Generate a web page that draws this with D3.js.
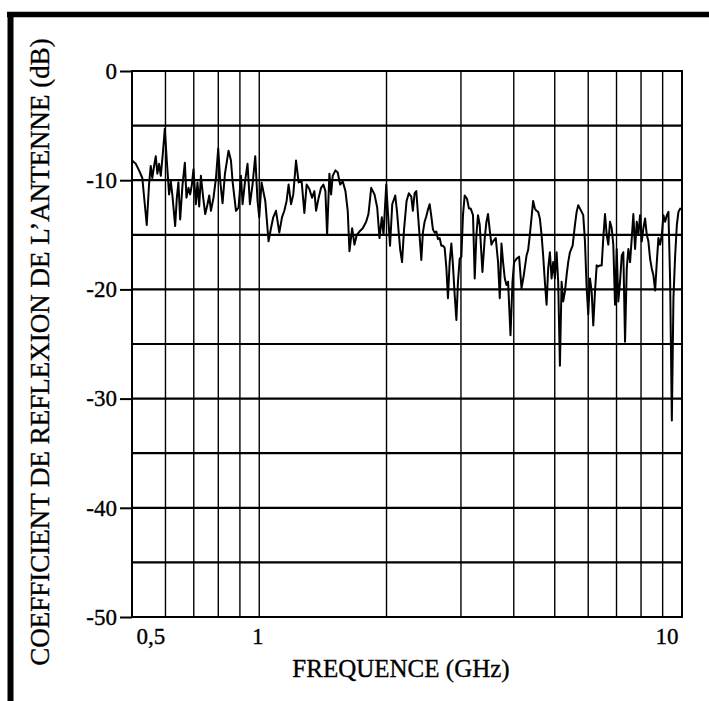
<!DOCTYPE html>
<html>
<head>
<meta charset="utf-8">
<script src="https://cdn.jsdelivr.net/npm/d3@7"></script>
<style>
  html, body { margin: 0; padding: 0; background: #fff; }
  svg { display: block; }
  text { font-family: "Liberation Serif", "Times New Roman", serif; fill: #000; stroke: #000; stroke-width: 0.35px; }
</style>
</head>
<body>
<svg id="chart" width="709" height="701"></svg>
<script>
// Measured reflection coefficient of the antenna versus frequency
const freqGHz = [
  0.500, 0.5105, 0.5195, 0.5289, 0.5418, 0.5486, 0.5537, 0.5585, 0.5639, 0.5691,
  0.5741, 0.5795, 0.5849, 0.5922, 0.5978, 0.6043, 0.6120, 0.6177, 0.6231, 0.6325,
  0.6383, 0.6438, 0.6500, 0.6581, 0.6668, 0.6727, 0.6800, 0.6864, 0.6928, 0.6988,
  0.7081, 0.7143, 0.7210, 0.7277, 0.7368, 0.7451, 0.7544, 0.7615, 0.7686, 0.7795,
  0.7899, 0.7997, 0.8086, 0.8188, 0.8296, 0.8460, 0.8572, 0.8647, 0.8809, 0.8934,
  0.9052, 0.9131, 0.9249, 0.9381, 0.9505, 0.9640, 0.9784, 0.9907, 1.000, 1.0126,
  1.0333, 1.0520, 1.0659, 1.0792, 1.0954, 1.1153, 1.1318, 1.1462, 1.1606, 1.1733,
  1.1889, 1.2037, 1.2218, 1.2391, 1.2597, 1.2784, 1.2945, 1.3138, 1.3332, 1.3501,
  1.3627, 1.3820, 1.4004, 1.4179, 1.4337, 1.4470, 1.4653, 1.4789, 1.4918, 1.5142,
  1.5332, 1.5534, 1.5755, 1.5991, 1.6192, 1.6344, 1.6586, 1.6796, 1.7008, 1.7261,
  1.7573, 1.7903, 1.8126, 1.8399, 1.8733, 1.9010, 1.9252, 1.9495, 1.9674, 1.9969,
  2.0143, 2.0387, 2.0633, 2.0974, 2.1181, 2.1353, 2.1555, 2.1767, 2.2003, 2.2310,
  2.2588, 2.2888, 2.3088, 2.3305, 2.3522, 2.3727, 2.3950, 2.4173, 2.4384, 2.4612,
  2.4841, 2.5057, 2.5293, 2.5528, 2.5751, 2.5993, 2.6235, 2.6463, 2.6712, 2.6960,
  2.7195, 2.7451, 2.7706, 2.7948, 2.8211, 2.8473, 2.8722, 2.8991, 2.9261, 2.9516,
  2.9793, 3.0070, 3.0332, 3.0618, 3.1004, 3.1341, 3.1638, 3.2035, 3.2335, 3.2636,
  3.2920, 3.3230, 3.3722, 3.4149, 3.4467, 3.4767, 3.5094, 3.5420, 3.5729, 3.6263,
  3.6718, 3.7063, 3.7408, 3.7734, 3.8089, 3.8443, 3.8778, 3.9292, 3.9722, 4.0067,
  4.0600, 4.1175, 4.1723, 4.2244, 4.2877, 4.3251, 4.3658, 4.4064, 4.4448, 4.4866,
  4.5283, 4.5678, 4.6107, 4.6536, 4.6942, 4.7383, 4.7824, 4.8241, 4.8694, 4.9147,
  4.9575, 5.0041, 5.0506, 5.0947, 5.1426, 5.1904, 5.2357, 5.2849, 5.3340, 5.3806,
  5.4311, 5.5115, 5.5814, 5.6333, 5.6824, 5.7358, 5.7891, 5.8396, 5.8945, 5.9493,
  6.0012, 6.0576, 6.1139, 6.1672, 6.2252, 6.2831, 6.3379, 6.3975, 6.4570, 6.5133,
  6.5745, 6.6356, 6.6935, 6.7564, 6.8192, 6.8787, 6.9433, 7.0079, 7.0690, 7.1354,
  7.2018, 7.2646, 7.3328, 7.4010, 7.4655, 7.5357, 7.6058, 7.6721, 7.7442, 7.8162,
  7.8844, 7.9585, 8.0325, 8.1026, 8.1787, 8.2548, 8.3267, 8.4050, 8.4832, 8.5571,
  8.6376, 8.7179, 8.7939, 8.8766, 8.9592, 9.0373, 9.1222, 9.2070, 9.2873, 9.3746,
  9.4618, 9.5443, 9.6340, 9.7236, 9.8084, 9.9005, 10.000
];
const reflexionDb = [
  -8.2, -8.5, -9.1, -9.8, -14.1, -10.4, -8.7, -9.8, -8.7, -7.8,
  -9.4, -8.5, -9.6, -7.3, -5.3, -8.2, -11.3, -10.1, -11.4, -14.2,
  -11.6, -10.2, -13.6, -10.5, -8.4, -11.6, -10.7, -11.3, -10.4, -9.0,
  -12.2, -10.2, -12.4, -9.6, -11.6, -13.1, -12.2, -11.4, -12.8, -11.6,
  -9.8, -7.1, -10.1, -12.1, -9.4, -7.3, -8.2, -10.1, -12.8, -12.5,
  -9.6, -12.2, -10.2, -8.5, -12.2, -10.4, -7.8, -11.9, -13.4, -10.2,
  -11.9, -15.6, -14.4, -13.4, -12.8, -14.8, -13.4, -12.8, -11.9, -10.4,
  -12.2, -11.3, -8.2, -10.2, -10.1, -13.0, -10.4, -10.8, -11.6, -11.0,
  -12.8, -11.6, -10.7, -10.4, -11.0, -15.0, -9.4, -11.3, -9.6, -9.1,
  -9.3, -10.4, -10.1, -11.0, -12.8, -16.5, -14.4, -15.9, -15.0, -14.7,
  -14.4, -13.8, -13.1, -10.7, -11.3, -12.5, -15.3, -13.4, -15.0, -10.4,
  -12.8, -16.0, -12.2, -11.4, -12.9, -14.6, -16.4, -17.5, -14.5, -11.9,
  -11.2, -11.5, -12.8, -11.2, -11.0, -13.0, -15.1, -17.3, -14.8, -13.8,
  -13.3, -12.7, -12.2, -13.3, -14.5, -14.8, -14.7, -15.4, -15.3, -16.0,
  -16.0, -16.2, -18.0, -20.8, -17.5, -15.8, -17.8, -20.5, -22.8, -19.3,
  -17.2, -17.0, -13.2, -11.4, -11.7, -12.6, -12.6, -13.2, -19.0, -15.0,
  -13.2, -14.1, -18.4, -15.3, -13.8, -13.1, -14.6, -15.9, -15.6, -15.3,
  -17.5, -20.8, -15.8, -17.5, -19.0, -19.6, -19.3, -24.2, -19.3, -17.5,
  -17.2, -17.0, -19.9, -18.7, -16.9, -16.4, -15.0, -13.4, -11.9, -12.6,
  -12.8, -12.9, -13.5, -15.0, -16.9, -19.3, -21.4, -18.1, -16.6, -19.0,
  -17.5, -19.0, -16.6, -19.3, -27.0, -19.3, -21.1, -20.2, -18.7, -17.5,
  -16.6, -16.0, -14.1, -12.9, -12.3, -12.6, -12.9, -13.2, -15.6, -19.9,
  -22.3, -19.0, -20.2, -23.3, -20.2, -17.8, -17.9, -17.8, -17.8, -15.3,
  -13.1, -15.0, -15.9, -13.8, -14.4, -15.9, -21.4, -16.3, -21.1, -19.3,
  -16.9, -16.6, -24.8, -18.1, -16.3, -17.5, -15.3, -13.1, -16.3, -13.8,
  -15.0, -13.2, -15.6, -14.4, -13.5, -15.0, -15.6, -17.2, -18.1, -18.7,
  -20.1, -17.5, -15.3, -15.9, -15.0, -13.2, -13.8, -13.2, -12.9, -19.3,
  -32.0, -20.8, -16.9, -14.1, -12.9, -12.6, -12.7
];

// Axis ticks and grid
const xTickValues = [0.5, 1, 10];
const xTickLabels = ["0,5", "1", "10"];
const xGridValues = [0.6, 0.7, 0.8, 0.9, 1, 2, 3, 4, 5, 6, 7, 8, 9];
const yTickValues = [0, -10, -20, -30, -40, -50];
const yTickLabels = ["0", "-10", "-20", "-30", "-40", "-50"];
const yGridValues = [-5, -10, -15, -20, -25, -30, -35, -40, -45];

const xTitle = "FREQUENCE (GHz)";
const yTitle = "COEFFICIENT DE REFLEXION DE L\u2019ANTENNE (dB)";

const svg = d3.select("#chart");
const plot = { left: 132, right: 682, top: 71, bottom: 617 };

const x = d3.scaleLog().domain([0.5, 10]).range([plot.left, plot.right]);
const y = d3.scaleLinear().domain([-50, 0]).range([plot.bottom, plot.top]);

// Page frame (thick rule on top and left)
svg.append("line")
  .attr("x1", 7).attr("x2", 709).attr("y1", 14.5).attr("y2", 14.5)
  .attr("stroke", "#000").attr("stroke-width", 5.5);
svg.append("line")
  .attr("x1", 10.5).attr("x2", 10.5).attr("y1", 12).attr("y2", 701)
  .attr("stroke", "#000").attr("stroke-width", 6);

const g = svg.append("g");

// Vertical grid
g.selectAll("line.vgrid").data(xGridValues).join("line")
  .attr("class", "vgrid")
  .attr("x1", d => x(d)).attr("x2", d => x(d))
  .attr("y1", plot.top).attr("y2", plot.bottom)
  .attr("stroke", "#000").attr("stroke-width", 1.4);

// Horizontal grid
g.selectAll("line.hgrid").data(yGridValues).join("line")
  .attr("class", "hgrid")
  .attr("x1", plot.left).attr("x2", plot.right)
  .attr("y1", d => y(d)).attr("y2", d => y(d))
  .attr("stroke", "#000").attr("stroke-width", 2.2);

// Plot box
g.append("rect")
  .attr("x", plot.left).attr("y", plot.top)
  .attr("width", plot.right - plot.left).attr("height", plot.bottom - plot.top)
  .attr("fill", "none").attr("stroke", "#000").attr("stroke-width", 2);

// Y axis with ticks and labels
const yAxis = d3.axisLeft(y)
  .tickValues(yTickValues)
  .tickFormat((d, i) => yTickLabels[i])
  .tickSize(12).tickSizeOuter(0).tickPadding(3);
const yg = g.append("g").attr("transform", `translate(${plot.left},0)`).call(yAxis);
yg.select(".domain").remove();
yg.selectAll(".tick line").attr("stroke", "#000").attr("stroke-width", 2);
yg.selectAll(".tick text")
  .attr("font-family", "'Liberation Serif', 'Times New Roman', serif")
  .attr("font-size", 23).attr("fill", "#000");

// X axis labels
const xAxis = d3.axisBottom(x)
  .tickValues(xTickValues)
  .tickFormat((d, i) => xTickLabels[i])
  .tickSize(0).tickSizeOuter(0).tickPadding(11);
const xg = g.append("g").attr("transform", `translate(0,${plot.bottom})`).call(xAxis);
xg.select(".domain").remove();
xg.selectAll(".tick text")
  .attr("font-family", "'Liberation Serif', 'Times New Roman', serif")
  .attr("font-size", 23).attr("fill", "#000")
  .attr("text-anchor", (d, i) => i === 0 ? "start" : (i === xTickValues.length - 1 ? "end" : "middle"))
  .attr("dx", (d, i) => i === 0 ? 4 : (i === xTickValues.length - 1 ? -4 : -2));

// Reflection curve
const pts = freqGHz.map((f, i) => [f, reflexionDb[i]]);
const line = d3.line().x(d => x(d[0])).y(d => y(d[1]));
g.append("path")
  .datum(pts)
  .attr("d", line)
  .attr("fill", "none")
  .attr("stroke", "#000")
  .attr("stroke-width", 2)
  .attr("stroke-linejoin", "round");

// Axis titles
svg.append("text")
  .attr("x", (plot.left + plot.right) / 2 - 6)
  .attr("y", 677)
  .attr("text-anchor", "middle")
  .attr("font-size", 25)
  .text(xTitle);

svg.append("text")
  .attr("transform", `translate(49, ${(plot.top + plot.bottom) / 2 + 8}) rotate(-90)`)
  .attr("text-anchor", "middle")
  .attr("font-size", 27)
  .text(yTitle);
</script>
</body>
</html>
